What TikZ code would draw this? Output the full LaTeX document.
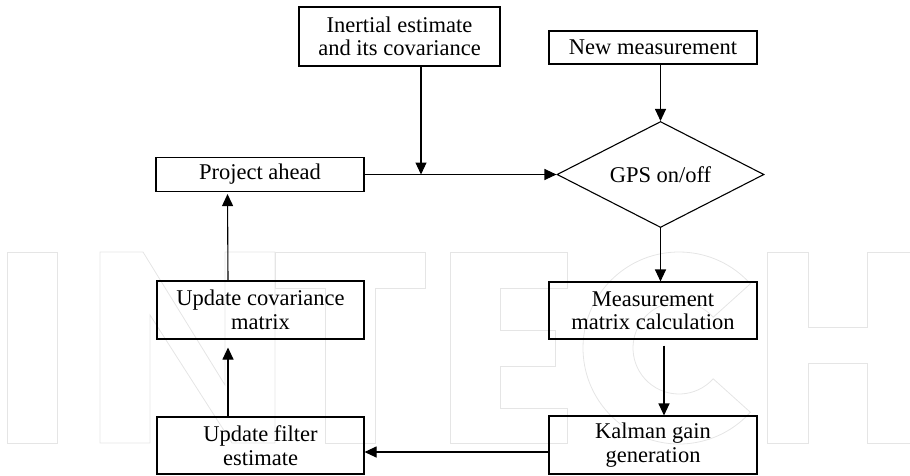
\documentclass[tikz,border=0pt]{standalone}
\usepackage{fontspec}
\setmainfont{Liberation Serif}
\usetikzlibrary{shapes.geometric,arrows.meta,calc}

\tikzset{
  stepbox/.style={draw, line width=1.1pt, minimum width=208pt, align=center,
    inner sep=0pt, font=\fontsize{22.5}{23.5}\selectfont},
  decision/.style={draw, diamond, aspect=2, line width=1.1pt, minimum width=207pt,
    minimum height=106pt, inner sep=0pt, font=\fontsize{22.5}{23.5}\selectfont},
  flow/.style={line width=1.1pt, -{Triangle[length=12pt,width=11pt]}},
  mark outline/.style={draw=black!10, line width=0.8pt}
}

\begin{document}
\begin{tikzpicture}[x=1pt,y=-1pt]
\useasboundingbox (0,0) rectangle (910,475);

% faint block lettering in the background
\path[mark outline] (7,252) rectangle (57,443);
\path[mark outline] (100,443) -- (100,252) -- (143,252) -- (225,385) -- (225,252)
  -- (275,252) -- (275,443) -- (232,443) -- (150,315) -- (150,443) -- cycle;
\path[mark outline] (275,252) -- (425,252) -- (425,288) -- (375,288) -- (375,443)
  -- (325,443) -- (325,288) -- (275,288) -- cycle;
\path[mark outline] (450,252) -- (567,252) -- (567,288) -- (500,288) -- (500,330)
  -- (555,330) -- (555,366) -- (500,366) -- (500,408) -- (567,408) -- (567,443)
  -- (450,443) -- cycle;
\coordinate (cc) at (679,348);
\path[mark outline] ($(cc)+(42:96pt)$) arc[start angle=42,end angle=318,radius=96pt]
  -- ($(cc)+(318:46pt)$) arc[start angle=318,end angle=42,radius=46pt] -- cycle;
\path[mark outline] (767,252) -- (808,252) -- (808,327) -- (867,327) -- (867,252)
  -- (915,252) -- (915,443) -- (867,443) -- (867,363) -- (808,363) -- (808,443)
  -- (767,443) -- cycle;

% process blocks
\node[stepbox, minimum width=201pt, minimum height=59pt] (inertial) at (399.5,36.5)
  {Inertial estimate\\and its covariance};
\node[stepbox, minimum height=33pt] (newmeas) at (653,47.5) {New measurement};
\node[stepbox, minimum height=34pt] (project) at (260,174.5) {Project ahead};
\node[decision] (gps) at (660.5,174.5) {GPS on/off};
\node[stepbox, minimum height=57pt] (measmat) at (653,310.5)
  {Measurement\\matrix calculation};
\node[stepbox, minimum height=58pt] (kalman) at (653,445)
  {Kalman gain\\generation};
\node[stepbox, minimum width=207pt, minimum height=57pt] (updfilt) at (260.5,445.5)
  {Update filter\\estimate};
\node[stepbox, minimum width=207pt, minimum height=58pt] (updcov) at (260.5,310)
  {Update covariance\\matrix};

% junction where the inertial estimate joins the main line
\coordinate (join) at (421,174.5);
\coordinate (kout) at (549,452);

% connectors
\draw[line width=1.1pt] (project.east) -- (join);
\draw[flow] (join) -- (gps.west);
\draw[flow] (inertial.south -| join) -- (join);
\draw[flow] (gps.north |- newmeas.south) -- (gps.north);
\draw[flow] (gps.south) -- (gps.south |- measmat.north);
\draw[flow, shorten <=6pt] ([xshift=11pt]measmat.south) -- ([xshift=11pt]kalman.north);
\draw[flow] (kout) -- (kout -| updfilt.east);
\draw[flow, shorten >=8pt] ([xshift=-32.5pt]updfilt.north) -- ([xshift=-32.5pt]updcov.south);
\draw[flow, shorten >=2pt] ([xshift=-32.5pt]updcov.north) -- ([xshift=-32.5pt]project.south);
\end{tikzpicture}
\end{document}
